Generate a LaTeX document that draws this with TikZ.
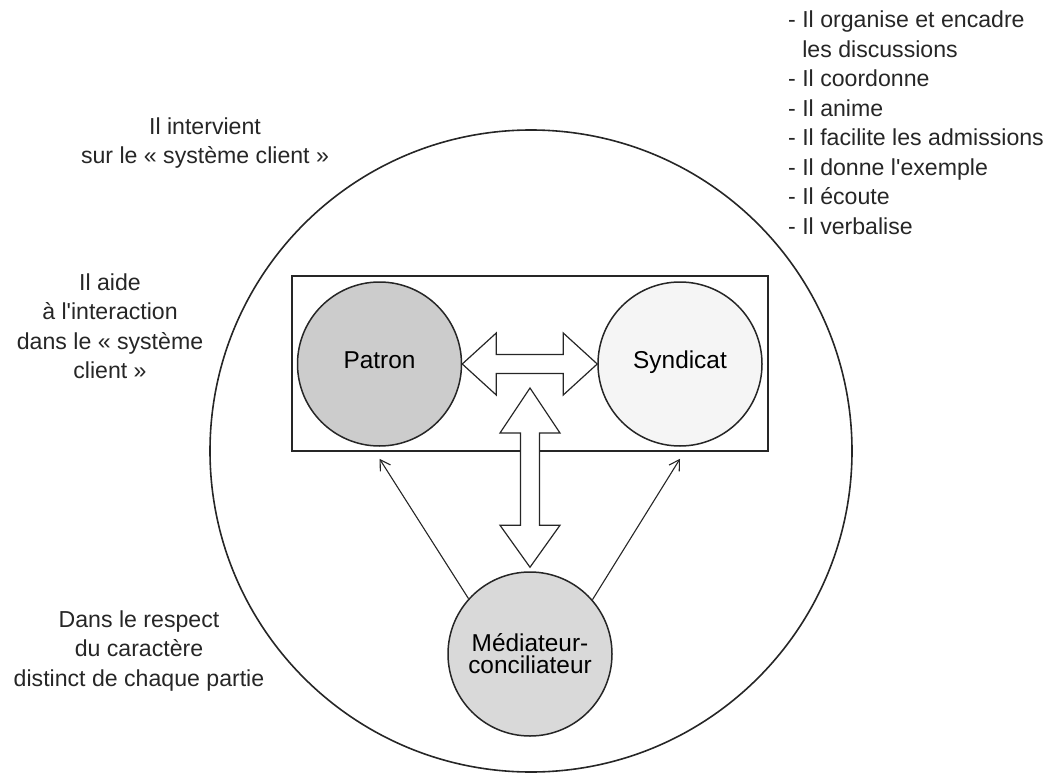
\documentclass[tikz,border=0pt]{standalone}
\usepackage{fontspec}
\setmainfont{Liberation Sans}
\usepackage{tikz}
\usetikzlibrary{calc}
\usetikzlibrary{arrows.meta}
\tikzset{
	party/.style={circle,draw=black!85,line width=1.5bp,inner sep=0pt,minimum size=164bp,font=\fontsize{24.5}{22}\selectfont},
	side/.style={party,text height=0.9em,text depth=0.05em},
	frame/.style={draw=black!85,line width=1.6bp,inner sep=0pt},
	hollow/.style={draw=black!85,fill=white,line width=1.2bp,line join=miter},
	link/.style={line width=1.1bp,draw=black!85,->},
	labl/.style={align=center,inner sep=0pt,text=black!85},
	>={Straight Barb[length=10bp,width=12bp]},
	}

\begin{document}
\begin{tikzpicture}[x=1bp,y=-1bp,font=\fontsize{23.2}{29.6}\selectfont]
 \useasboundingbox (0,0) rectangle (1048,773);

\node (sys) at (531,451) [circle,draw=black!85,line width=1.6bp,minimum size=642bp] {};
\node (box) at (530,363.5) [frame,minimum width=476bp,minimum height=175bp] {};
\node (pat) at (379.5,364) [side,fill=black!20] {Patron};
\node (syn) at (680,364) [side,fill=black!4] {Syndicat};
\node (med) at (530,654) [party,fill=black!15,align=center] {Médiateur-\\conciliateur};

\node (sur) at (205,143) [labl] {Il intervient\\sur le « système client »};
\node (aide) at (110,326) [labl] {Il aide\\à l\textquotesingle interaction\\dans le « système\\client »};
\node (resp) at (139,651) [labl] {Dans le respect\\du caractère\\distinct de chaque partie};
\node (roles) at (788,11) [anchor=north west,align=left,inner sep=0pt,text=black!85]
  {- Il organise et encadre\\\hphantom{- }les discussions\\- Il coordonne\\- Il anime\\- Il facilite les admissions\\- Il donne l\textquotesingle exemple\\- Il écoute\\- Il verbalise};

 % fleches creuses
\draw[hollow] (pat.east) -- ++(34,-31) -- ++(0,21.5) -- ($(syn.west)+(-34,-9.5)$) -- ++(0,-21.5) -- (syn.west)
  -- ++(-34,31) -- ++(0,-21.5) -- ($(pat.east)+(34,9.5)$) -- ++(0,21.5) -- cycle;
\coordinate (hub) at (530,388);
\coordinate (mtop) at ($(med.north)+(0,-4)$);
\draw[hollow] (hub) -- ++(30,45) -- ++(-20.5,0) -- ($(mtop)+(9.5,-42)$) -- ++(20.5,0) -- (mtop)
  -- ++(-30,-42) -- ++(20.5,0) -- ($(hub)+(-9.5,45)$) -- ++(-20.5,0) -- cycle;

 % fleches simples
\coordinate (pl) at ($(box.south -| pat)+(0,7)$);
\coordinate (pr) at ($(box.south -| syn)+(0,7)$);
\draw[link] (med.138) -- (pl);
\draw[link] (med.41) -- (pr);
\end{tikzpicture}
\end{document}
